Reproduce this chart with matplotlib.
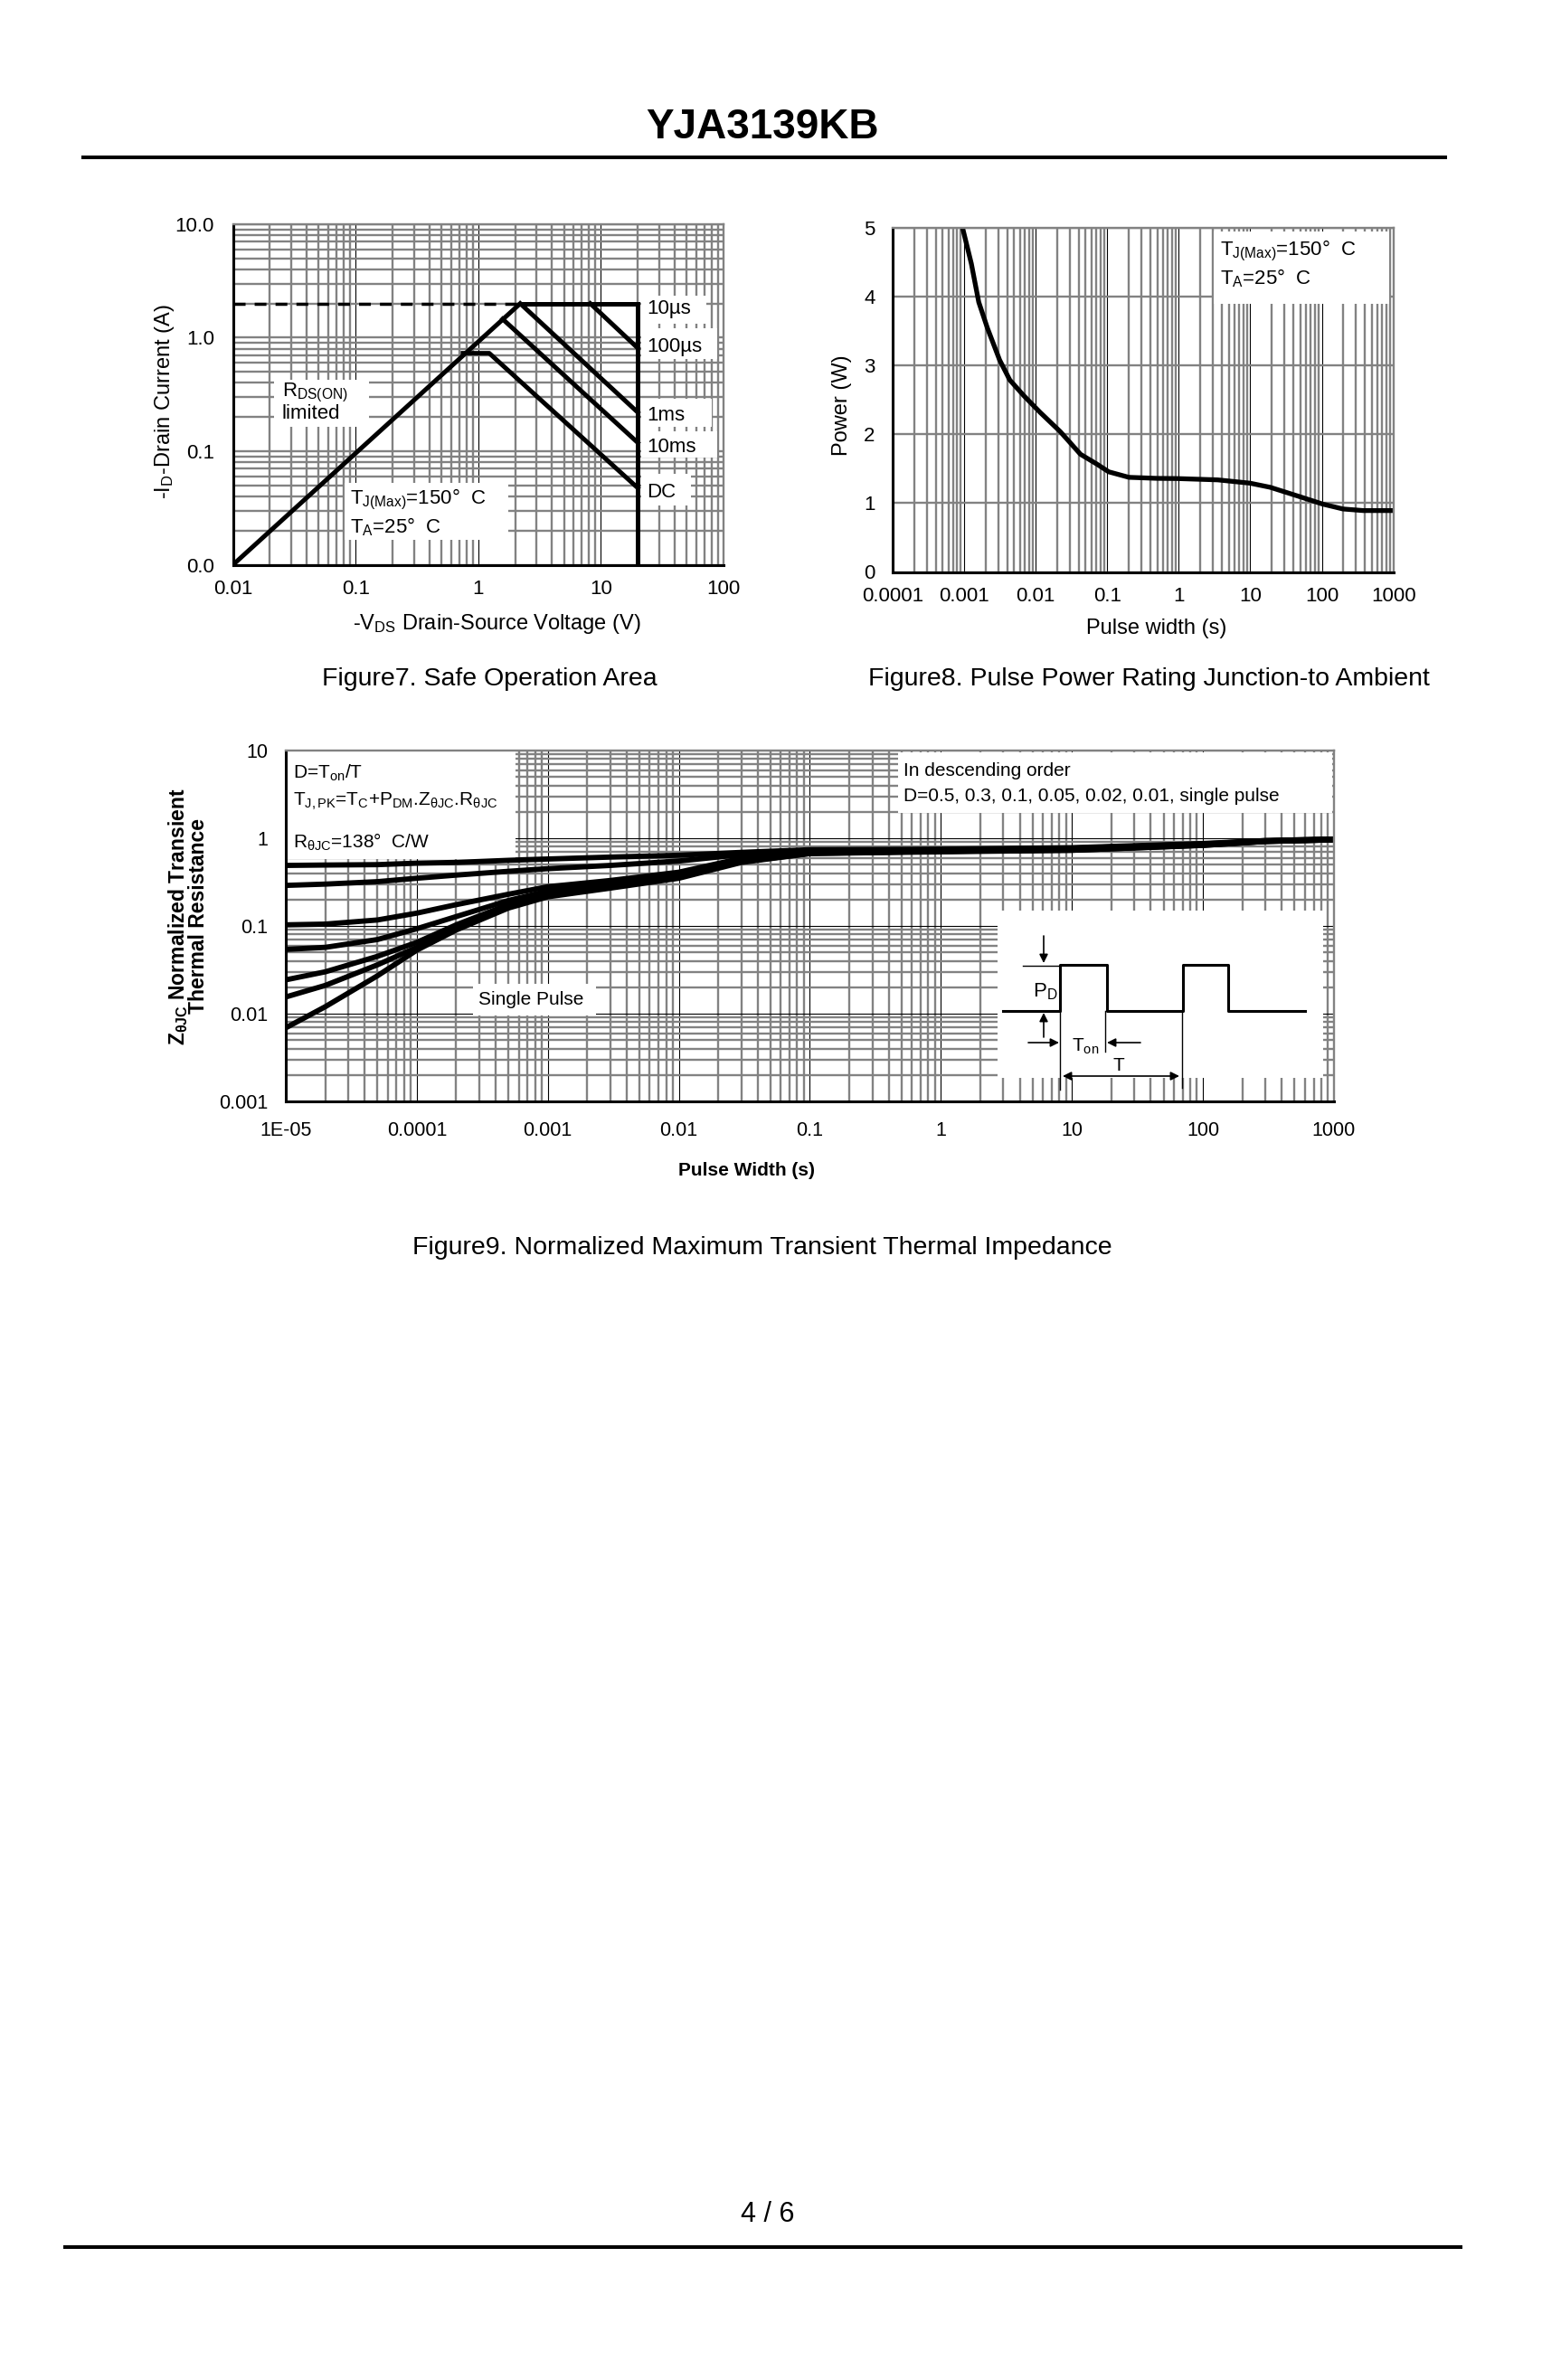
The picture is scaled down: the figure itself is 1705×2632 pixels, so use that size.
import numpy as np
import matplotlib
matplotlib.use('Agg')
from matplotlib import pyplot as plt
from matplotlib.lines import Line2D
from matplotlib.patches import Rectangle
from matplotlib.ticker import LogLocator, NullFormatter

plt.rcParams['font.family'] = ['Liberation Sans', 'DejaVu Sans']
plt.rcParams['mathtext.fontset'] = 'custom'
plt.rcParams['mathtext.rm'] = 'Liberation Sans'
plt.rcParams['mathtext.it'] = 'Liberation Sans:italic'
plt.rcParams['mathtext.bf'] = 'Liberation Sans:bold'
plt.rcParams['mathtext.default'] = 'regular'

# Figure7 - safe operating area (V, A)
soa_rds_v = [0.01, 2.2]
soa_rds_i = [0.01, 2.0]
soa_idm_v = [0.01, 2.2]
soa_idm_i = [2.0, 2.0]
soa_10us_v = [2.2, 20, 20]
soa_10us_i = [2.0, 2.0, 0.01]
soa_100us_v = [8.2, 20]
soa_100us_i = [2.0, 0.81]
soa_1ms_v = [2.2, 20]
soa_1ms_i = [2.0, 0.22]
soa_10ms_v = [1.58, 20]
soa_10ms_i = [1.46, 0.119]
soa_dc_v = [0.75, 1.23, 20]
soa_dc_i = [0.73, 0.73, 0.0475]
soa_labels = ['10µs', '100µs', '1ms', '10ms', 'DC']

# Figure8 - pulse power rating (s, W)
pw_t = [0.00095, 0.00126, 0.0016, 0.00212, 0.00313, 0.00434, 0.00684, 0.0115,
        0.022, 0.0423, 0.071, 0.105, 0.201, 0.499, 0.957, 3.5, 9.93, 19,
        47.2, 103, 198, 378, 1000]
pw_p = [5.0, 4.48, 3.92, 3.54, 3.08, 2.79, 2.56, 2.32, 2.04, 1.71, 1.57, 1.455,
        1.375, 1.36, 1.357, 1.338, 1.29, 1.23, 1.10, 0.986, 0.915, 0.892, 0.892]

# Figure9 - normalized transient thermal impedance
zth_t = [1e-5, 2e-5, 5e-5, 1e-4, 2e-4, 5e-4, 1e-3, 3e-3, 1e-2, 3e-2, 0.1, 1, 10, 100, 300, 1000]
zth_d05 = [0.49, 0.495, 0.50, 0.52, 0.53, 0.56, 0.58, 0.61, 0.64, 0.69, 0.74, 0.75, 0.78, 0.87, 0.94, 0.98]
zth_d03 = [0.29, 0.30, 0.32, 0.35, 0.38, 0.42, 0.45, 0.49, 0.55, 0.65, 0.72, 0.74, 0.77, 0.86, 0.94, 0.98]
zth_d01 = [0.103, 0.105, 0.117, 0.14, 0.175, 0.23, 0.28, 0.33, 0.41, 0.59, 0.70, 0.73, 0.75, 0.85, 0.93, 0.97]
zth_d005 = [0.054, 0.057, 0.070, 0.093, 0.128, 0.195, 0.25, 0.31, 0.39, 0.57, 0.69, 0.72, 0.74, 0.84, 0.93, 0.97]
zth_d002 = [0.0243, 0.030, 0.045, 0.065, 0.103, 0.175, 0.232, 0.29, 0.37, 0.55, 0.68, 0.71, 0.74, 0.84, 0.92, 0.96]
zth_d001 = [0.0155, 0.021, 0.036, 0.057, 0.095, 0.167, 0.223, 0.28, 0.36, 0.54, 0.67, 0.71, 0.73, 0.83, 0.92, 0.96]
zth_single = [0.0069, 0.012, 0.027, 0.053, 0.09, 0.16, 0.215, 0.27, 0.35, 0.53, 0.67, 0.70, 0.73, 0.83, 0.92, 0.96]

GRAY = '#828282'
W, H = 1706, 2632


def fx(px):
    return px / W


def fy(py):
    return 1 - py / H


def frame(ax, xlog=True, ylog=True, xmaj_dark=True, ymaj_dark=False):
    sub = np.arange(2, 10)
    if xlog:
        ax.xaxis.set_minor_locator(LogLocator(base=10, subs=sub, numticks=100))
        ax.xaxis.set_minor_formatter(NullFormatter())
        ax.grid(which='minor', axis='x', color=GRAY, lw=1.7)
    if ylog:
        ax.yaxis.set_minor_locator(LogLocator(base=10, subs=sub, numticks=100))
        ax.yaxis.set_minor_formatter(NullFormatter())
        ax.grid(which='minor', axis='y', color=GRAY, lw=1.7)
    ax.grid(which='major', axis='x', color='black' if xmaj_dark else GRAY,
            lw=0.8 if xmaj_dark else 1.7)
    ax.grid(which='major', axis='y', color='black' if ymaj_dark else GRAY,
            lw=0.8 if ymaj_dark else 1.7)
    ax.set_axisbelow(True)
    ax.tick_params(which='both', length=0)
    for s in ['left', 'bottom']:
        ax.spines[s].set_color('black')
        ax.spines[s].set_linewidth(2.2)
    for s in ['top', 'right']:
        ax.spines[s].set_color(GRAY)
        ax.spines[s].set_linewidth(1.7)


def white_box(ax, x0, y0, x1, y1):
    ax.add_patch(Rectangle((x0, y0), x1 - x0, y1 - y0, transform=ax.transAxes,
                           facecolor='white', edgecolor='none', zorder=1.5))


fig = plt.figure(figsize=(W / 100, H / 100), dpi=100)

# page header / footer
fig.text(fx(843), fy(141), 'YJA3139KB', ha='center', va='center',
         fontsize=33, fontweight='bold')
fig.add_artist(Line2D([fx(92), fx(1598)], [fy(174), fy(174)], color='black', lw=2.9))
fig.add_artist(Line2D([fx(72), fx(1615)], [fy(2485), fy(2485)], color='black', lw=2.9))
fig.text(fx(849), fy(2449), '4 / 6', ha='center', va='center', fontsize=22)

# ---------------- Figure7 ----------------
ax7 = fig.add_axes([fx(257.6), fy(624.6), (800 - 257.6) / W, (624.6 - 247.9) / H])
ax7.set_xscale('log')
ax7.set_yscale('log')
ax7.set_xlim(0.01, 100)
ax7.set_ylim(0.01, 10)
ax7.set_xticks([0.01, 0.1, 1, 10, 100], ['0.01', '0.1', '1', '10', '100'])
ax7.set_yticks([0.01, 0.1, 1, 10], ['0.0', '0.1', '1.0', '10.0'])
frame(ax7)
ax7.tick_params(axis='x', labelsize=16, pad=12)
ax7.tick_params(axis='y', labelsize=16, pad=15)

lw7 = 3.6
ax7.plot(soa_idm_v, soa_idm_i, color='black', lw=2.5, dashes=(3.75, 2.9))
ax7.plot(soa_rds_v, soa_rds_i, color='black', lw=lw7, solid_capstyle='butt')
ax7.plot(soa_10us_v, soa_10us_i, color='black', lw=lw7, solid_joinstyle='miter')
ax7.plot(soa_100us_v, soa_100us_i, color='black', lw=lw7)
ax7.plot(soa_1ms_v, soa_1ms_i, color='black', lw=lw7)
ax7.plot(soa_10ms_v, soa_10ms_i, color='black', lw=lw7)
ax7.plot(soa_dc_v, soa_dc_i, color='black', lw=lw7)

label_boxes = [(0.709, 0.790, 0.965), (0.604, 0.694, 0.988), (0.405, 0.487, 0.976),
               (0.315, 0.392, 0.988), (0.174, 0.268, 0.934)]
label_y = [0.752, 0.640, 0.437, 0.346, 0.213]
for lab, (b0, b1, xr), yy in zip(soa_labels, label_boxes, label_y):
    white_box(ax7, 0.832, b0, xr, b1)
    ax7.text(0.8444, yy, lab, transform=ax7.transAxes, fontsize=16,
             ha='left', va='center', zorder=3)

white_box(ax7, 0.0838, 0.405, 0.2774, 0.543)
ax7.text(0.0994, 0.505, r'R$_{DS(ON)}$', transform=ax7.transAxes, fontsize=16,
         ha='left', va='center')
ax7.text(0.0994, 0.4436, 'limited', transform=ax7.transAxes, fontsize=16,
         ha='left', va='center')
white_box(ax7, 0.2275, 0.073, 0.561, 0.2405)
ax7.text(0.239, 0.1927, r'T$_{J(Max)}$=150°  C', transform=ax7.transAxes,
         fontsize=16, ha='left', va='center')
ax7.text(0.239, 0.1118, r'T$_A$=25°  C', transform=ax7.transAxes,
         fontsize=16, ha='left', va='center')

fig.text(fx(182), fy(444), r'-I$_D$-Drain Current (A)', rotation=90,
         ha='center', va='center', fontsize=17)
fig.text(fx(549), fy(690), r'-V$_{DS}$ Drain-Source Voltage (V)',
         ha='center', va='center', fontsize=17)
fig.text(fx(541), fy(751), 'Figure7. Safe Operation Area', ha='center',
         va='center', fontsize=20.5)

# ---------------- Figure8 ----------------
ax8 = fig.add_axes([fx(987), fy(632.5), (1540.6 - 987) / W, (632.5 - 252) / H])
ax8.set_xscale('log')
ax8.set_xlim(1e-4, 1000)
ax8.set_ylim(0, 5)
ax8.set_xticks([1e-4, 1e-3, 1e-2, 0.1, 1, 10, 100, 1000],
               ['0.0001', '0.001', '0.01', '0.1', '1', '10', '100', '1000'])
ax8.set_yticks([0, 1, 2, 3, 4, 5], ['0', '1', '2', '3', '4', '5'])
frame(ax8, ylog=False)
ax8.tick_params(axis='x', labelsize=16, pad=12)
ax8.tick_params(axis='y', labelsize=16, pad=14)
ax8.plot(pw_t, pw_p, color='black', lw=3.8, solid_capstyle='butt')

white_box(ax8, 0.641, 0.779, 0.991, 0.990)
ax8.text(0.653, 0.934, r'T$_{J(Max)}$=150°  C', transform=ax8.transAxes,
         fontsize=16, ha='left', va='center')
ax8.text(0.653, 0.854, r'T$_A$=25°  C', transform=ax8.transAxes,
         fontsize=16, ha='left', va='center')

fig.text(fx(931), fy(448), 'Power (W)', rotation=90, ha='center',
         va='center', fontsize=17)
fig.text(fx(1279), fy(695), 'Pulse width (s)', ha='center', va='center',
         fontsize=17)
fig.text(fx(1270), fy(751), 'Figure8. Pulse Power Rating Junction-to Ambient',
         ha='center', va='center', fontsize=20.5)

# ---------------- Figure9 ----------------
ax9 = fig.add_axes([fx(316), fy(1218), (1475 - 316) / W, (1218 - 830) / H])
ax9.set_xscale('log')
ax9.set_yscale('log')
ax9.set_xlim(1e-5, 1000)
ax9.set_ylim(0.001, 10)
ax9.set_xticks([1e-5, 1e-4, 1e-3, 1e-2, 0.1, 1, 10, 100, 1000],
               ['1E-05', '0.0001', '0.001', '0.01', '0.1', '1', '10', '100', '1000'])
ax9.set_yticks([0.001, 0.01, 0.1, 1, 10], ['0.001', '0.01', '0.1', '1', '10'])
frame(ax9, ymaj_dark=True)
ax9.tick_params(axis='x', labelsize=15.5, pad=16)
ax9.tick_params(axis='y', labelsize=15.5, pad=14)

for z in [zth_d05, zth_d03, zth_d01, zth_d005, zth_d002, zth_d001, zth_single]:
    ax9.plot(zth_t, z, color='black', lw=4.2, solid_capstyle='butt')

white_box(ax9, 0.0, 0.691, 0.219, 1.0)
ax9.text(0.0069, 0.9356, r'D=T$_{on}$/T', transform=ax9.transAxes, fontsize=15,
         ha='left', va='center')
ax9.text(0.0069, 0.854, r'T$_{J,PK}$=T$_C$+P$_{DM}$.Z$_{θJC}$.R$_{θJC}$',
         transform=ax9.transAxes, fontsize=15, ha='left', va='center')
ax9.text(0.0069, 0.738, r'R$_{θJC}$=138°  C/W', transform=ax9.transAxes,
         fontsize=15, ha='left', va='center')
white_box(ax9, 0.584, 0.822, 0.998, 0.995)
ax9.text(0.589, 0.941, 'In descending order', transform=ax9.transAxes,
         fontsize=15, ha='left', va='center')
ax9.text(0.589, 0.871, 'D=0.5, 0.3, 0.1, 0.05, 0.02, 0.01, single pulse',
         transform=ax9.transAxes, fontsize=15, ha='left', va='center')
white_box(ax9, 0.1786, 0.245, 0.296, 0.335)
ax9.text(0.1838, 0.2887, 'Single Pulse', transform=ax9.transAxes, fontsize=15,
         ha='left', va='center')

fig.text(fx(197), fy(1014), r'Z$_{\mathbf{θJC}}$ Normalized Transient',
         rotation=90, ha='center', va='center', fontsize=16.5, fontweight='bold')
fig.text(fx(220), fy(1013), 'Thermal Resistance', rotation=90, ha='center',
         va='center', fontsize=16.5, fontweight='bold')
fig.text(fx(826), fy(1295), 'Pulse Width (s)', ha='center', va='center',
         fontsize=15, fontweight='bold')
fig.text(fx(843), fy(1380), 'Figure9. Normalized Maximum Transient Thermal Impedance',
         ha='center', va='center', fontsize=20.5)

# duty cycle sketch inset
ins = fig.add_axes([fx(1103), fy(1192), 360 / W, 185 / H])
ins.set_xlim(0, 360)
ins.set_ylim(0, 185)
ins.set_xticks([])
ins.set_yticks([])
for s in ins.spines.values():
    s.set_visible(False)
ins.set_facecolor('white')
ins.plot([6, 69, 69, 121, 121, 205, 205, 255, 255, 340],
         [74, 74, 125, 125, 74, 74, 125, 125, 74, 74], color='black', lw=2.2)
ins.plot([28, 69], [124, 124], color='black', lw=1)
for xv, ylo in [(69, -13), (119, 29), (204, -11)]:
    ins.plot([xv, xv], [74, ylo], color='black', lw=1, clip_on=False)
arr = dict(arrowstyle='-|>', color='black', lw=1.2, mutation_scale=14,
           shrinkA=0, shrinkB=0)
ins.annotate('', xy=(51, 127), xytext=(51, 157), arrowprops=arr)
ins.annotate('', xy=(51, 72), xytext=(51, 45), arrowprops=arr)
ins.annotate('', xy=(68, 39), xytext=(34, 39), arrowprops=arr)
ins.annotate('', xy=(121, 39), xytext=(158, 39), arrowprops=arr)
ins.annotate('', xy=(201, 2), xytext=(72, 2), annotation_clip=False,
             arrowprops=dict(arrowstyle='<|-|>', color='black', lw=1.2,
                             mutation_scale=14, shrinkA=0, shrinkB=0))
ins.text(39, 95, r'P$_D$', fontsize=16, ha='left', va='center')
ins.text(82, 35, r'T$_{on}$', fontsize=15, ha='left', va='center')
ins.text(134, 14, 'T', fontsize=15, ha='center', va='center')

fig.savefig('out.png', dpi=100, facecolor='white')
